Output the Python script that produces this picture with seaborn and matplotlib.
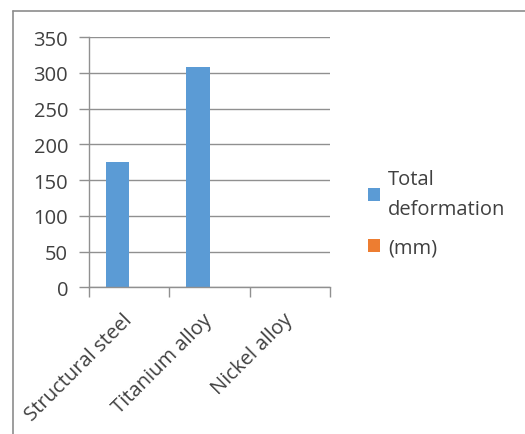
import matplotlib
matplotlib.use("Agg")
import matplotlib.pyplot as plt
from matplotlib.lines import Line2D
from matplotlib.patches import Patch
import seaborn as sns
import pandas as pd

# Chart data
materials = ["Structural steel", "Titanium alloy", "Nickel alloy"]
total_deformation = [176, 309, 0]
mm_series = [0, 0, 0]
series_names = ["Total\ndeformation", "(mm)"]
y_ticks = [0, 50, 100, 150, 200, 250, 300, 350]

df = pd.DataFrame({
    "material": materials * 2,
    "value": total_deformation + mm_series,
    "series": [series_names[0]] * len(materials) + [series_names[1]] * len(materials),
})

sns.set_theme(style="white")
plt.rcParams["font.family"] = ["Open Sans", "DejaVu Sans"]

BLUE = "#5B9BD5"
ORANGE = "#ED7D31"
GRID = "#909090"
TEXT = "#404040"
FS = 14.5

fig = plt.figure(figsize=(5.25, 4.35), dpi=100)
ax = fig.add_axes([0.1695, 0.3372, 0.4591, 0.5748])

sns.barplot(data=df, x="material", y="value", hue="series",
            palette=[BLUE, ORANGE], width=0.573, saturation=1,
            linewidth=0, dodge=True, ax=ax, legend=False)

ax.set_xlim(-0.5, 2.5)
ax.set_ylim(0, 350)
ax.set_yticks(y_ticks)
ax.set_xlabel("")
ax.set_ylabel("")
ax.yaxis.grid(True, color=GRID, linewidth=1.0)
ax.set_axisbelow(True)

for side in ["top", "right"]:
    ax.spines[side].set_visible(False)
for side in ["left", "bottom"]:
    ax.spines[side].set_color(GRID)
    ax.spines[side].set_linewidth(1.0)

ax.tick_params(axis="y", which="major", length=7, width=1.0, color=GRID,
               direction="out", pad=8, labelsize=FS, labelcolor=TEXT, left=True)
# category-boundary tick marks on the x axis
ax.set_xticks([-0.5, 0.5, 1.5, 2.5], minor=True)
ax.tick_params(axis="x", which="minor", length=7, width=1.0, color=GRID,
               direction="out", bottom=True)
ax.tick_params(axis="x", which="major", length=0, pad=21, labelsize=FS,
               labelcolor=TEXT)
for lbl in ax.get_xticklabels():
    lbl.set_rotation(45)
    lbl.set_ha("right")
    lbl.set_va("center")
    lbl.set_rotation_mode("anchor")

# legend
handles = [Patch(facecolor=BLUE, edgecolor="none"),
           Patch(facecolor=ORANGE, edgecolor="none")]
leg = fig.legend(handles, series_names, loc="upper left",
                 bbox_to_anchor=(0.666, 0.650), frameon=False, fontsize=FS,
                 labelcolor=TEXT, handlelength=0.6, handleheight=0.6,
                 handletextpad=0.4, labelspacing=0.95)
for t in leg.get_texts():
    t.set_linespacing(1.62)

# outer chart frame (left and top edges)
fig.add_artist(Line2D([13 / 525, 13 / 525], [0, 1 - 12 / 435],
                      transform=fig.transFigure, color="#8C8C8C", linewidth=1.2))
fig.add_artist(Line2D([13 / 525, 1], [1 - 12 / 435, 1 - 12 / 435],
                      transform=fig.transFigure, color="#8C8C8C", linewidth=1.2))

fig.savefig("out.png", dpi=100, facecolor="white")
